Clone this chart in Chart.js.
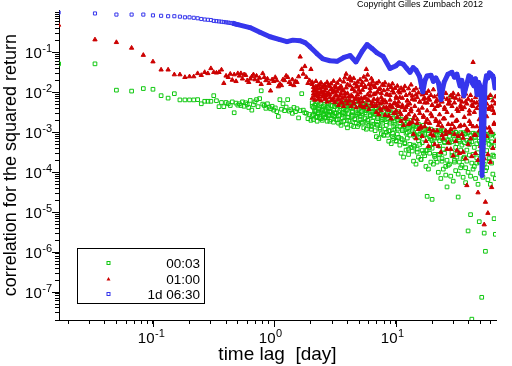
<!DOCTYPE html>
<html>
<head>
<meta charset="utf-8">
<script src="https://cdn.jsdelivr.net/npm/chart.js"></script>
<style>
  html, body { margin: 0; padding: 0; background: #fff; }
  #wrap { width: 512px; height: 366px; }
</style>
</head>
<body>
<div id="wrap"><canvas id="acf" width="512" height="366"></canvas></div>
<script>
// time lags in days; short lags are steps of 1/60 day
const lagsShort = [
  0.0167, 0.0333, 0.05, 0.0667, 0.0833, 0.1, 0.1167, 0.1333, 0.15, 0.1667,
  0.1833, 0.2, 0.2167, 0.2333, 0.25, 0.2667, 0.2833, 0.3, 0.3167, 0.3333,
  0.35, 0.3667, 0.3833, 0.4, 0.4167, 0.4333, 0.45, 0.4667, 0.4833, 0.5,
  0.515, 0.53, 0.546, 0.563, 0.58, 0.597, 0.615, 0.633, 0.652, 0.672,
  0.692, 0.713, 0.734, 0.756, 0.779, 0.802, 0.826, 0.851, 0.877, 0.903,
  0.93, 0.958, 0.987, 1.017, 1.047, 1.078, 1.11, 1.144, 1.178, 1.213,
  1.25, 1.287, 1.326, 1.366, 1.407, 1.449, 1.492, 1.537, 1.583, 1.631,
  1.68, 1.73, 1.782, 1.835, 1.89, 1.947, 2.0
];
// long lags: here the points are so dense that several samples share a lag
const lagsLong = [
  2.05, 2.1, 2.15, 2.2, 2.25, 2.3, 2.36, 2.42, 2.48, 2.54,
  2.6, 2.66, 2.72, 2.79, 2.86, 2.93, 3.0, 3.07, 3.14, 3.22,
  3.3, 3.38, 3.46, 3.54, 3.63, 3.72, 3.81, 3.9, 4.0, 4.1,
  4.2, 4.3, 4.4, 4.5, 4.6, 4.72, 4.84, 4.96, 5.08, 5.2,
  5.32, 5.45, 5.58, 5.72, 5.86, 6.0, 6.15, 6.3, 6.45, 6.6,
  6.76, 6.92, 7.08, 7.25, 7.42, 7.6, 7.78, 7.96, 8.15, 8.35,
  8.55, 8.75, 8.96, 9.17, 9.39, 9.61, 9.84, 10.07, 10.3, 10.55,
  10.8, 11.06, 11.32, 11.59, 11.87, 12.15, 12.44, 12.74, 13.04, 13.35,
  13.67, 14.0, 14.33, 14.67, 15.02, 15.38, 15.75, 16.12, 16.5, 16.9,
  17.3, 17.71, 18.13, 18.56, 19.0, 19.45, 19.92, 20.4, 20.88, 21.38,
  21.89, 22.41, 22.94, 23.49, 24.05, 24.62, 25.2, 25.8, 26.42, 27.05,
  27.69, 28.35, 29.03, 29.72, 30.43, 31.15, 31.89, 32.65, 33.43, 34.22,
  35.04, 35.87, 36.72, 37.6, 38.49, 39.41, 40.35, 41.31, 42.29, 43.3,
  44.33, 45.38, 46.46, 47.56, 48.69, 49.85, 51.03, 52.24, 53.48, 54.75,
  56.05, 57.38, 58.74, 60.13, 61.56, 63.02, 64.52, 66.05
];

// 00:03 returns
const corr0003Short = [
  0.052, 0.052, 0.0114, 0.0108, 0.0125, 0.012, 0.0083, 0.0072, 0.0093, 0.0065,
  0.0065, 0.0065, 0.0065, 0.0066, 0.0052, 0.006, 0.006, 0.006, 0.0083, 0.0062,
  0.0044, 0.0056, 0.0044, 0.0056, 0.0052, 0.0047, 0.0058, 0.0031, 0.0054, 0.0048,
  0.0052, 0.0047, 0.0058, 0.0045, 0.0055, 0.005, 0.0042, 0.0063, 0.0036, 0.0049,
  0.0058, 0.0066, 0.0044, 0.007, 0.011, 0.0051, 0.0047, 0.004, 0.0052, 0.0043,
  0.0039, 0.0045, 0.0036, 0.0041, 0.0033, 0.0025, 0.0066, 0.0038, 0.0052, 0.0035,
  0.0043, 0.0066, 0.0034, 0.0037, 0.003, 0.0042, 0.0033, 0.0039, 0.0023, 0.0035,
  0.0093, 0.0036, 0.0031, 0.003, 0.0022, 0.0028, 0.002
];
const corr0003Long = [
  0.0045, 0.0028, 0.0036, 0.0052, 0.0025, 0.0031, 0.0041, 0.0022, 0.0038, 0.0029,
  0.0035, 0.0024, 0.0042, 0.0028, 0.0019, 0.0033, 0.0047, 0.0026, 0.0031, 0.0021,
  0.0038, 0.0026, 0.0044, 0.0018, 0.0032, 0.0055, 0.0024, 0.0036, 0.0013, 0.0029,
  0.0042, 0.0027, 0.0034, 0.0048, 0.0021, 0.0031, 0.0014, 0.0038, 0.0025, 0.0033,
  0.0029, 0.0041, 0.0022, 0.0035, 0.0017, 0.0045, 0.0026, 0.0012, 0.0032, 0.0024,
  0.0028, 0.0016, 0.0022, 0.0035, 0.0012, 0.0019, 0.0026, 0.00085, 0.0021, 0.0015,
  0.0022, 0.0011, 0.0017, 0.0028, 0.00078, 0.0014, 0.0019, 0.0006, 0.0012, 0.0024,
  0.0014, 0.0007, 0.0011, 0.0019, 0.00052, 0.00095, 0.0013, 0.00038, 0.00085, 0.0016,
  0.0011, 0.00048, 0.00078, 0.0015, 0.00032, 0.00062, 0.0009, 0.00021, 0.00055, 0.0012,
  0.00088, 0.00035, 0.000025, 0.0012, 0.00042, 0.00068, 0.000021, 0.00052, 0.00025, 0.00095,
  0.00072, 0.00028, 0.00045, 0.0011, 0.00019, 0.00038, 0.00058, 0.00014, 0.000043, 0.00062,
  0.00055, 0.0078, 0.00032, 0.00085, 0.00018, 0.00042, 0.00024, 0.000024, 0.00065, 0.00036,
  0.00048, 0.00022, 0.0009, 0.00013, 0.00036, 0.0000034, 0.00058, 0.0000087, 0.000000021, 0.00028,
  0.00042, 0.00075, 0.00017, 0.00031, 0.0000058, 0.00052, 0.000000074, 0.00024, 0.000003, 0.00000105,
  0.00035, 0.00065, 0.00019, 0.0078, 0.00044, 0.00027, 0.0000069, 0.0000028
];
const corr0003LongUpper = [
  0.0055, 0.0042, 0.0048, 0.0034, 0.0058, 0.0039, 0.0046, 0.0052, 0.0036, 0.0044,
  0.005, 0.0038, 0.0056, 0.0041, 0.0033, 0.0047, 0.0058, 0.0036, 0.0044, 0.0052,
  0.0048, 0.0059, 0.0035, 0.0045, 0.0054, 0.0031, 0.0042, 0.0061, 0.0038, 0.005,
  0.0046, 0.0056, 0.0032, 0.0043, 0.0058, 0.0036, 0.0049, 0.0029, 0.0053, 0.0041,
  0.0044, 0.0053, 0.0031, 0.0048, 0.0037, 0.0056, 0.0028, 0.0042, 0.0051, 0.0034,
  0.0032, 0.0041, 0.0024, 0.0038, 0.0028, 0.0044, 0.0021, 0.0034, 0.0026, 0.0039,
  0.0026, 0.0034, 0.0019, 0.0031, 0.0022, 0.0036, 0.0016, 0.0028, 0.0021, 0.0033,
  0.0017, 0.0021, 0.0012, 0.0019, 0.0014, 0.0022, 0.001, 0.0018, 0.0013, 0.002,
  0.0012, 0.0015, 0.00088, 0.0014, 0.001, 0.0016, 0.00075, 0.0013, 0.00095, 0.0015,
  0.00095, 0.0012, 0.0007, 0.0011, 0.00078, 0.0012, 0.00062, 0.001, 0.00072, 0.0011,
  0.00085, 0.0011, 0.00062, 0.001, 0.0007, 0.0011, 0.00055, 0.00092, 0.00065, 0.001,
  0.0008, 0.001, 0.00058, 0.00095, 0.00066, 0.001, 0.00052, 0.00088, 0.0006, 0.00098,
  0.00078, 0.00098, 0.00055, 0.00092, 0.00063, 0.00098, 0.0005, 0.00085, 0.00058, 0.00095,
  0.00075, 0.00092, 0.00052, 0.00088, 0.0006, 0.00092, 0.00048, 0.00082, 0.00055, 0.0009,
  0.00072, 0.0009, 0.0005, 0.00085, 0.00058, 0.0009, 0.00046, 0.0008
];
const corr0003LongLower = [
  0.0026, 0.0021, 0.0033, 0.0024, 0.0019, 0.0029, 0.0023, 0.0031, 0.002, 0.0027,
  0.0023, 0.0029, 0.0019, 0.0026, 0.0032, 0.0021, 0.0028, 0.0018, 0.0025, 0.003,
  0.0021, 0.0017, 0.0027, 0.0015, 0.0023, 0.0019, 0.003, 0.0016, 0.0024, 0.002,
  0.0019, 0.0015, 0.0025, 0.0014, 0.0022, 0.0017, 0.0028, 0.0016, 0.0021, 0.0018,
  0.0017, 0.0013, 0.0023, 0.0012, 0.002, 0.0015, 0.0026, 0.0014, 0.0019, 0.0016,
  0.0011, 0.00078, 0.0015, 0.0007, 0.0013, 0.00092, 0.0017, 0.00085, 0.0012, 0.001,
  0.00085, 0.0006, 0.0011, 0.00052, 0.00095, 0.0007, 0.0012, 0.00062, 0.0009, 0.00075,
  0.00048, 0.0003, 0.00065, 0.00024, 0.00055, 0.00036, 0.00072, 0.00028, 0.0005, 0.00042,
  0.00034, 0.00019, 0.00045, 0.00016, 0.00038, 0.00024, 0.0005, 0.00021, 0.00035, 0.0003,
  0.00026, 0.00014, 0.00036, 0.00012, 0.0003, 0.00018, 0.0004, 0.00016, 0.00028, 0.00022,
  0.00018, 0.0001, 0.00028, 0.00007, 0.00022, 0.00012, 0.0003, 0.000085, 0.0002, 0.00015,
  0.00016, 0.00008, 0.00026, 0.00006, 0.0002, 0.00011, 0.00028, 0.00009, 0.00018, 0.00013,
  0.00015, 0.000075, 0.00024, 0.000055, 0.00019, 0.0001, 0.00027, 0.00008, 0.00017, 0.00012,
  0.00014, 0.00007, 0.00023, 0.00005, 0.00018, 0.000095, 0.00026, 0.000075, 0.00016, 0.00011,
  0.00013, 0.000065, 0.00022, 0.00005, 0.00017, 0.00009, 0.00025, 0.00007
];

// 01:00 returns
const corr0100Short = [
  0.49, 0.21, 0.18, 0.13, 0.086, 0.059, 0.037, 0.037, 0.028, 0.028,
  0.024, 0.025, 0.025, 0.03, 0.027, 0.032, 0.03, 0.04, 0.032, 0.031,
  0.032, 0.037, 0.017, 0.026, 0.024, 0.029, 0.0205, 0.028, 0.019, 0.03,
  0.026, 0.03, 0.022, 0.028, 0.027, 0.02, 0.018, 0.022, 0.025, 0.028,
  0.021, 0.026, 0.019, 0.023, 0.016, 0.03, 0.024, 0.02, 0.022, 0.017,
  0.011, 0.021, 0.019, 0.024, 0.02, 0.014, 0.0163, 0.015, 0.021, 0.02,
  0.026, 0.024, 0.018, 0.016, 0.021, 0.015, 0.019, 0.018, 0.025, 0.078,
  0.038, 0.029, 0.045, 0.024, 0.017, 0.02, 0.038
];
const corr0100Long = [
  0.018, 0.011, 0.0085, 0.014, 0.0125, 0.0078, 0.016, 0.0105, 0.0135, 0.009,
  0.011, 0.0072, 0.0095, 0.015, 0.0088, 0.012, 0.0065, 0.0105, 0.014, 0.0082,
  0.0105, 0.0068, 0.013, 0.0092, 0.0055, 0.011, 0.0078, 0.029, 0.0095, 0.0062,
  0.024, 0.0085, 0.012, 0.0058, 0.0105, 0.0075, 0.014, 0.0068, 0.0098, 0.0045,
  0.0115, 0.0072, 0.0135, 0.038, 0.0088, 0.0062, 0.0105, 0.0155, 0.0058, 0.009,
  0.0092, 0.0048, 0.0068, 0.012, 0.0039, 0.0075, 0.0055, 0.015, 0.0062, 0.0042,
  0.0088, 0.0036, 0.0065, 0.0045, 0.011, 0.0052, 0.003, 0.0072, 0.0048, 0.0058,
  0.0075, 0.0028, 0.0048, 0.011, 0.0022, 0.0042, 0.0062, 0.0016, 0.0052, 0.0033,
  0.0068, 0.0022, 0.0045, 0.0088, 0.0017, 0.0036, 0.0058, 0.0013, 0.0041, 0.0026,
  0.0055, 0.0018, 0.0035, 0.0072, 0.0012, 0.0029, 0.0048, 0.00082, 0.0038, 0.0021,
  0.0045, 0.0015, 0.0028, 0.0062, 0.00085, 0.0022, 0.0038, 0.0011, 0.0032, 0.00055,
  0.0052, 0.0012, 0.0026, 0.0075, 0.0009, 0.0019, 0.00035, 0.0034, 0.0014, 0.0043,
  0.0038, 0.00072, 0.0024, 0.0058, 0.000047, 0.0011, 0.0029, 0.0016, 0.0048, 0.057,
  0.0032, 0.00085, 0.0055, 0.000031, 0.0021, 0.0012, 0.0068, 0.00045, 0.0000049, 0.000018,
  0.0025, 0.0000095, 0.0042, 0.0011, 0.000042, 0.0036, 0.0016, 0.0052
];
const corr0100LongUpper = [
  0.016, 0.0135, 0.0115, 0.019, 0.0095, 0.015, 0.0125, 0.0175, 0.0102, 0.0145,
  0.0155, 0.0128, 0.018, 0.0098, 0.0142, 0.0165, 0.0118, 0.0192, 0.0108, 0.0135,
  0.0172, 0.0122, 0.0205, 0.0142, 0.0112, 0.0185, 0.0235, 0.0131, 0.0158, 0.0215,
  0.0148, 0.0195, 0.0125, 0.0225, 0.0165, 0.0138, 0.0182, 0.0115, 0.0208, 0.0152,
  0.0178, 0.0245, 0.0142, 0.0205, 0.0275, 0.0158, 0.0128, 0.0222, 0.0188, 0.0145,
  0.0135, 0.0168, 0.0102, 0.0185, 0.0125, 0.0095, 0.0158, 0.0112, 0.0175, 0.0088,
  0.0118, 0.0152, 0.0085, 0.0135, 0.0165, 0.0098, 0.0128, 0.0078, 0.0145, 0.0108,
  0.0098, 0.0128, 0.0072, 0.0115, 0.0142, 0.0085, 0.0062, 0.0125, 0.0092, 0.0155,
  0.0082, 0.0112, 0.0065, 0.0125, 0.0075, 0.0098, 0.0058, 0.0135, 0.0088, 0.0068,
  0.0072, 0.0095, 0.0055, 0.0108, 0.0065, 0.0085, 0.0048, 0.0118, 0.0078, 0.0058,
  0.0065, 0.0088, 0.0048, 0.0102, 0.0058, 0.0075, 0.0042, 0.0095, 0.0068, 0.0052,
  0.0062, 0.0082, 0.0045, 0.0095, 0.0055, 0.0072, 0.0038, 0.0088, 0.0065, 0.0048,
  0.0058, 0.0078, 0.0042, 0.0092, 0.0052, 0.0068, 0.0035, 0.0085, 0.0062, 0.0045,
  0.0055, 0.0075, 0.004, 0.0088, 0.0048, 0.0065, 0.0032, 0.0082, 0.0058, 0.0042,
  0.0052, 0.0072, 0.0038, 0.0085, 0.0045, 0.0062, 0.003, 0.0078
];
const corr0100LongLower = [
  0.0072, 0.0092, 0.0065, 0.0082, 0.0105, 0.0068, 0.0088, 0.0062, 0.0078, 0.0098,
  0.0068, 0.0085, 0.0058, 0.0092, 0.0075, 0.0062, 0.0098, 0.0072, 0.0056, 0.0088,
  0.0065, 0.0048, 0.0082, 0.0058, 0.0072, 0.0045, 0.0092, 0.0062, 0.0052, 0.0078,
  0.0062, 0.0045, 0.0078, 0.0052, 0.0068, 0.0042, 0.0088, 0.0058, 0.0048, 0.0072,
  0.0058, 0.0042, 0.0075, 0.0048, 0.0065, 0.0038, 0.0082, 0.0052, 0.0045, 0.0068,
  0.0045, 0.0032, 0.0058, 0.0028, 0.0052, 0.0036, 0.0065, 0.0042, 0.0027, 0.0055,
  0.0038, 0.0026, 0.0048, 0.0022, 0.0042, 0.003, 0.0055, 0.0035, 0.0024, 0.0045,
  0.0032, 0.0019, 0.0042, 0.0015, 0.0036, 0.0024, 0.0048, 0.0028, 0.0017, 0.0038,
  0.0018, 0.0009, 0.0026, 0.0007, 0.0021, 0.0012, 0.003, 0.0014, 0.0008, 0.0024,
  0.0014, 0.0006, 0.0021, 0.00045, 0.0017, 0.0009, 0.0025, 0.0011, 0.0005, 0.0019,
  0.0011, 0.00045, 0.0018, 0.00032, 0.0014, 0.0007, 0.0022, 0.0009, 0.00038, 0.0016,
  0.001, 0.00038, 0.0016, 0.00026, 0.0013, 0.0006, 0.002, 0.0008, 0.0003, 0.0015,
  0.0009, 0.00032, 0.0015, 0.00022, 0.0012, 0.0005, 0.0019, 0.0007, 0.00025, 0.0014,
  0.00085, 0.0003, 0.0014, 0.0002, 0.0011, 0.00045, 0.0018, 0.00065, 0.00022, 0.0013,
  0.0008, 0.00028, 0.0013, 0.00018, 0.001, 0.0004, 0.0017, 0.0006
];

// 1d 06:30 returns (own lags)
const lags1d0630 = [
  0.0167, 0.0333, 0.05, 0.0667, 0.0833, 0.1, 0.1167, 0.1333, 0.15, 0.1667,
  0.1833, 0.2, 0.2167, 0.2333, 0.25, 0.2667, 0.2833, 0.3, 0.3167, 0.3333,
  0.35, 0.3667, 0.3833, 0.4, 0.4167, 0.4333, 0.45, 0.4667, 0.4833, 0.5,
  0.629, 0.761, 0.92, 1.11, 1.27, 1.42, 1.62, 1.79, 1.96, 2.24,
  2.51, 2.87, 3.28, 3.74, 4.2, 4.7, 5.27, 5.8, 6.37, 7.0,
  7.85, 8.96, 10.0, 10.7, 11.5, 12.3, 13.1, 13.9, 14.7, 15.7,
  16.7, 17.4, 18.1, 19.5, 20.4, 21.4, 22.5, 23.6, 24.3, 25.0,
  26.9, 29.0, 30.4, 31.9, 33.8, 35.0, 36.4, 37.4, 38.5, 40.0,
  41.6, 42.8, 44.0, 45.3, 46.7, 48.0, 49.4, 50.4, 51.3, 52.8,
  54.3, 55.8, 57.4, 59.1, 60.8, 63.1, 64.4, 65.6, 66.5
];
const corr1d0630 = [
  1.0, 0.95, 0.89, 0.89, 0.89, 0.85, 0.83, 0.81, 0.81, 0.79,
  0.76, 0.76, 0.74, 0.72, 0.69, 0.67, 0.66, 0.65, 0.62, 0.61,
  0.6, 0.59, 0.58, 0.57, 0.56, 0.55, 0.54, 0.53, 0.51, 0.5,
  0.42, 0.32, 0.248, 0.209, 0.187, 0.204, 0.198, 0.176, 0.14, 0.094,
  0.069, 0.062, 0.06, 0.075, 0.084, 0.058, 0.106, 0.158, 0.126, 0.098,
  0.08, 0.04, 0.046, 0.055, 0.051, 0.04, 0.032, 0.042, 0.036, 0.025,
  0.0103, 0.02, 0.026, 0.027, 0.019, 0.023, 0.017, 0.0066, 0.012, 0.018,
  0.0287, 0.032, 0.024, 0.0287, 0.0146, 0.02, 0.0083, 0.012, 0.0163, 0.026,
  0.024, 0.017, 0.0146, 0.022, 0.0087, 0.018, 0.0146, 0.012, 0.000083, 0.00072,
  0.0163, 0.026, 0.023, 0.031, 0.0287, 0.0256, 0.02, 0.013, 0.0216
];

const seriesNames = ['00:03', '01:00', '1d 06:30'];
const xTickExponents = [-1, 0, 1];
const yTickExponents = [-7, -6, -5, -4, -3, -2, -1];

const FONT = '"Liberation Sans", Arial, Helvetica, sans-serif';
const GREEN = '#10c810';
const RED = '#cc0000';
const BLUE = '#3636ec';

function toPoints(xs, ys) {
  return xs.map((x, i) => ({ x: x, y: ys[i] }));
}

// 1..9 x 10^n tick marks inside the axis range
function logTicks(min, max) {
  const t = [];
  for (let e = -9; e <= 2; e++) {
    for (let m = 1; m < 10; m++) {
      const v = m * Math.pow(10, e);
      if (v >= min && v <= max) t.push({ value: v });
    }
  }
  return t;
}

function baseWidth(ctx) {
  ctx.font = '15px ' + FONT;
  return ctx.measureText('10').width;
}

function powerWidth(ctx, exp) {
  const w = baseWidth(ctx);
  ctx.font = '11px ' + FONT;
  return w + 0.5 + ctx.measureText(String(exp)).width;
}

function drawPower(ctx, exp, left, baseline) {
  const w = baseWidth(ctx);
  ctx.textAlign = 'left';
  ctx.textBaseline = 'alphabetic';
  ctx.fillText('10', left, baseline);
  ctx.font = '11px ' + FONT;
  ctx.fillText(String(exp), left + w + 0.5, baseline - 6);
}

const decorations = {
  id: 'decorations',
  afterDraw(chart) {
    const ctx = chart.ctx;
    const xs = chart.scales.x, ys = chart.scales.y;
    ctx.save();
    ctx.fillStyle = '#000';
    ctx.strokeStyle = '#000';
    ctx.lineWidth = 1;

    // major ticks are longer, labels as 10^n
    yTickExponents.forEach(e => {
      const py = Math.round(ys.getPixelForValue(Math.pow(10, e))) + 0.5;
      ctx.beginPath();
      ctx.moveTo(ys.right - 7, py);
      ctx.lineTo(ys.right, py);
      ctx.stroke();
      drawPower(ctx, e, ys.right - 7 - powerWidth(ctx, e), py + 5);
    });
    xTickExponents.forEach(e => {
      const px = Math.round(xs.getPixelForValue(Math.pow(10, e))) + 0.5;
      ctx.beginPath();
      ctx.moveTo(px, xs.top);
      ctx.lineTo(px, xs.top + 7);
      ctx.stroke();
      drawPower(ctx, e, px - baseWidth(ctx) + 1, xs.top + 23);
    });

    // legend box
    const lx = 77, ly = 248, lw = 127, lh = 55;
    ctx.fillStyle = '#fff';
    ctx.fillRect(lx, ly, lw, lh);
    ctx.strokeStyle = '#000';
    ctx.strokeRect(lx + 0.5, ly + 0.5, lw, lh);
    const rows = [263, 279, 294];
    const mx = 108.5;
    ctx.strokeStyle = GREEN;
    ctx.strokeRect(mx - 1.5, rows[0] - 1.5, 3, 3);
    ctx.fillStyle = RED;
    ctx.beginPath();
    ctx.moveTo(mx, rows[1] - 2);
    ctx.lineTo(mx + 2, rows[1] + 1.5);
    ctx.lineTo(mx - 2, rows[1] + 1.5);
    ctx.closePath();
    ctx.fill();
    ctx.strokeStyle = BLUE;
    ctx.strokeRect(mx - 1.5, rows[2] - 1.5, 3, 3);
    ctx.fillStyle = '#000';
    ctx.font = '13.5px ' + FONT;
    ctx.textAlign = 'right';
    ctx.textBaseline = 'middle';
    seriesNames.forEach((name, i) => ctx.fillText(name, 200, rows[i] + 1));

    ctx.font = '9px ' + FONT;
    ctx.textAlign = 'center';
    ctx.fillText('Copyright Gilles Zumbach 2012', 420, 5);
    ctx.restore();
  }
};

const greenPoints = toPoints(lagsShort, corr0003Short)
  .concat(toPoints(lagsLong, corr0003Long))
  .concat(toPoints(lagsLong, corr0003LongUpper))
  .concat(toPoints(lagsLong, corr0003LongLower));
const redPoints = toPoints(lagsShort, corr0100Short)
  .concat(toPoints(lagsLong, corr0100Long))
  .concat(toPoints(lagsLong, corr0100LongUpper))
  .concat(toPoints(lagsLong, corr0100LongLower));

new Chart(document.getElementById('acf'), {
  type: 'scatter',
  data: {
    datasets: [
      {
        label: seriesNames[0],
        data: greenPoints,
        order: 3,
        pointStyle: 'rect',
        pointRadius: 2.6,
        pointBorderWidth: 1,
        pointBorderColor: GREEN,
        pointBackgroundColor: 'rgba(0,0,0,0)'
      },
      {
        label: seriesNames[1],
        data: redPoints,
        order: 2,
        pointStyle: 'triangle',
        pointRadius: 2.5,
        pointBorderWidth: 1,
        pointBorderColor: RED,
        pointBackgroundColor: RED
      },
      {
        label: seriesNames[2],
        data: toPoints(lags1d0630, corr1d0630),
        order: 1,
        showLine: true,
        borderColor: BLUE,
        borderWidth: 5,
        borderJoinStyle: 'round',
        tension: 0,
        segment: {
          borderColor: c => c.p0.parsed.x < 0.44 ? 'rgba(0,0,0,0)' : BLUE
        },
        pointStyle: 'rect',
        pointRadius: 2.2,
        pointBorderWidth: 1,
        pointBorderColor: BLUE,
        pointBackgroundColor: 'rgba(0,0,0,0)'
      }
    ]
  },
  options: {
    responsive: false,
    animation: false,
    events: [],
    layout: { padding: { top: 5, right: 16, left: 0, bottom: 0 } },
    plugins: {
      legend: { display: false },
      tooltip: { enabled: false }
    },
    scales: {
      x: {
        type: 'logarithmic',
        position: 'bottom',
        min: 0.01683,
        max: 66.9,
        afterBuildTicks: scale => { scale.ticks = logTicks(scale.min, scale.max); },
        afterFit: scale => { scale.height = 46; },
        ticks: { callback: () => '', autoSkip: false, maxRotation: 0 },
        grid: { drawOnChartArea: false, drawTicks: true, tickLength: 4, tickColor: '#000', color: '#000' },
        border: { color: '#000', width: 1 },
        title: { display: true, text: 'time lag  [day]', color: '#000', padding: 0, font: { family: FONT, size: 19 } }
      },
      y: {
        type: 'logarithmic',
        position: 'left',
        min: 2.0e-8,
        max: 1.146,
        afterBuildTicks: scale => { scale.ticks = logTicks(scale.min, scale.max); },
        afterFit: scale => { scale.width = 59; },
        ticks: { callback: () => '', autoSkip: false },
        grid: { drawOnChartArea: false, drawTicks: true, tickLength: 4, tickColor: '#000', color: '#000' },
        border: { color: '#000', width: 1 },
        title: { display: true, text: 'correlation for the squared return', color: '#000', padding: 0, font: { family: FONT, size: 18 } }
      }
    }
  },
  plugins: [decorations]
});
</script>
</body>
</html>
